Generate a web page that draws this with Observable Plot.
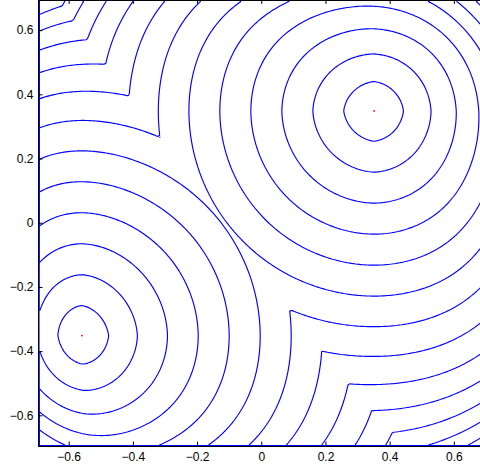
<!DOCTYPE html>
<html><head><meta charset="utf-8">
<script src="https://cdn.jsdelivr.net/npm/d3@7"></script>
<script src="https://cdn.jsdelivr.net/npm/@observablehq/plot@0.6"></script>
<style>html,body{margin:0;padding:0;background:#fff}svg{display:block}</style>
</head><body><div id="chart"></div>
<script>
// minima (red points)
const sourceX = [0.35, -0.56];
const sourceY = [0.35, -0.35];
// contour levels (multiples of the level step)
const levels = [1,2,3,4,5,6,7,8,9,10,11,12,13,14];
const levelStep = 0.0966;
const xTicks = [-0.6,-0.4,-0.2,0,0.2,0.4,0.6];
const yTicks = [-0.6,-0.4,-0.2,0,0.2,0.4,0.6];
const xDomain = [-0.694, 0.694];
const yDomain = [-0.694, 0.694];
// shape of the distance field
const warpX = 0.4, warpY = 0.4, cornerWarp = 3, diamond = 0.35;

function warp(x, y) {
  return [x + warpX * x ** 5 + cornerWarp * x ** 5 * y ** 4,
          y + warpY * y ** 5 + cornerWarp * y ** 5 * x ** 4];
}
const sourceW = sourceX.map((x, i) => warp(x, sourceY[i]));
function field(x, y) {
  const [u, v] = warp(x, y);
  let best = Infinity;
  for (const [u0, v0] of sourceW) {
    const du = u - u0, dv = v - v0, rho = Math.hypot(du, dv);
    const w = diamond * Math.exp(-rho / 0.1);
    const d = rho * (1 - w) + w * (Math.abs(du) + Math.abs(dv));
    if (d < best) best = d;
  }
  return best;
}

const tickLen = 4 / 321;
const fmt = d => d === 0 ? "0" : d3.format(".1f")(d);

const chart = Plot.plot({
  width: 480, height: 470,
  marginLeft: 38, marginRight: 0, marginTop: 0, marginBottom: 24,
  style: {fontFamily: "'Liberation Sans', Arial, Helvetica, sans-serif", fontSize: "12px", color: "black", background: "white"},
  x: {domain: xDomain, range: [38.5, 38.5 + 1.388 * 321], label: null},
  y: {domain: yDomain, range: [445.5, 445.5 - 1.388 * 321], label: null},
  marks: [
    Plot.contour({value: field, x1: xDomain[0], x2: xDomain[1], y1: yDomain[0], y2: yDomain[1], thresholds: levels.map(k => k * levelStep), stroke: "#0000ff", strokeWidth: 1.15, fill: "none"}),
    Plot.dot(sourceX.map((x, i) => ({x, y: sourceY[i]})), {x: "x", y: "y", r: 0.9, fill: "red"}),
    Plot.frame({stroke: "black"}),
    Plot.ruleX(xTicks, {x: d => d, y1: yDomain[0], y2: yDomain[0] + tickLen, stroke: "black"}),
    Plot.ruleX(xTicks, {x: d => d, y1: yDomain[1], y2: yDomain[1] - tickLen, stroke: "black"}),
    Plot.ruleY(yTicks, {y: d => d, x1: xDomain[0], x2: xDomain[0] + tickLen, stroke: "black"}),
    Plot.axisX(xTicks, {anchor: "bottom", tickSize: 0, tickPadding: 6, tickFormat: fmt, label: null}),
    Plot.axisY(yTicks, {anchor: "left", tickSize: 0, tickPadding: 5, tickFormat: fmt, label: null})
  ]
});
document.getElementById("chart").appendChild(chart);
</script>
</body></html>
